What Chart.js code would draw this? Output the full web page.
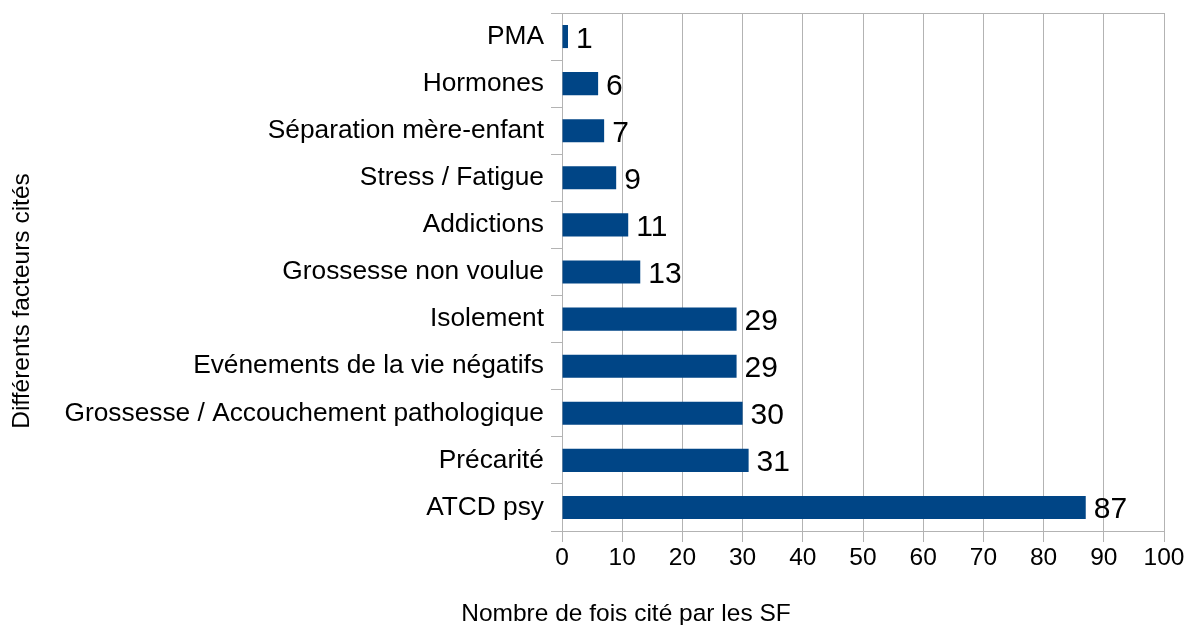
<!DOCTYPE html>
<html>
<head>
<meta charset="utf-8">
<script src="https://cdn.jsdelivr.net/npm/chart.js@4/dist/chart.umd.min.js"></script>
<style>
  html, body { margin: 0; padding: 0; background: #fff; }
  #wrap { width: 1187px; height: 625px; }
</style>
</head>
<body>
<div id="wrap"><canvas id="chart"></canvas></div>
<script>
// Chart data (top to bottom)
const factors = [
    'PMA',
    'Hormones',
    'Séparation mère-enfant',
    'Stress / Fatigue',
    'Addictions',
    'Grossesse non voulue',
    'Isolement',
    'Evénements de la vie négatifs',
    'Grossesse / Accouchement pathologique',
    'Précarité',
    'ATCD psy'
];
const counts = [1, 6, 7, 9, 11, 13, 29, 29, 30, 31, 87];
const xTicks = [0, 10, 20, 30, 40, 50, 60, 70, 80, 90, 100];

const xTitle = 'Nombre de fois cité par les SF';
const yTitle = 'Différents facteurs cités';

const font = 'Liberation Sans, Arial, sans-serif';
const lineColor = '#b3b3b3';

// Labels next to each bar + axis titles + top frame line
const extras = {
    id: 'extras',
    afterDraw(chart) {
        const ctx = chart.ctx;
        const area = chart.chartArea;
        ctx.save();

        // top frame line
        ctx.strokeStyle = lineColor;
        ctx.lineWidth = 1;
        ctx.beginPath();
        ctx.moveTo(area.left, area.top + 0.5);
        ctx.lineTo(area.right, area.top + 0.5);
        ctx.stroke();

        // value labels
        const meta = chart.getDatasetMeta(0);
        ctx.fillStyle = '#000';
        ctx.font = '30px ' + font;
        ctx.textAlign = 'left';
        ctx.textBaseline = 'alphabetic';
        meta.data.forEach((bar, i) => {
            ctx.fillText(String(counts[i]), bar.x + 8, bar.y + 11);
        });

        // axis titles
        ctx.font = '24.5px ' + font;
        ctx.textAlign = 'center';
        ctx.fillText(xTitle, 626, 621);

        ctx.translate(29, 301);
        ctx.rotate(-Math.PI / 2);
        ctx.fillText(yTitle, 0, 0);
        ctx.restore();
    }
};

new Chart(document.getElementById('chart'), {
    type: 'bar',
    data: {
        labels: factors,
        datasets: [{
            data: counts,
            backgroundColor: '#004586',
            barPercentage: 0.49,
            categoryPercentage: 1
        }]
    },
    options: {
        indexAxis: 'y',
        responsive: true,
        maintainAspectRatio: false,
        animation: false,
        layout: { padding: { top: 13, right: 23, left: 0, bottom: 0 } },
        plugins: {
            legend: { display: false },
            tooltip: { enabled: false }
        },
        scales: {
            x: {
                min: 0,
                max: 100,
                afterBuildTicks: (scale) => {
                    scale.ticks = xTicks.map(v => ({ value: v }));
                },
                afterFit: (scale) => { scale.height = 94; },
                grid: {
                    color: lineColor,
                    tickLength: 11,
                    drawTicks: true
                },
                border: { display: true, color: lineColor },
                ticks: {
                    color: '#000',
                    font: { family: font, size: 24.5 },
                    padding: 2,
                    maxRotation: 0
                }
            },
            y: {
                afterFit: (scale) => {
                    scale.width = 562;
                    scale.paddingTop = 0;
                    scale.paddingBottom = 0;
                },
                grid: {
                    offset: true,
                    drawOnChartArea: false,
                    drawTicks: true,
                    tickLength: 11,
                    color: lineColor
                },
                border: { display: true, color: lineColor },
                ticks: {
                    color: '#000',
                    font: { family: font, size: 26.3 },
                    padding: 7,
                    autoSkip: false
                }
            }
        }
    },
    plugins: [extras]
});
</script>
</body>
</html>
